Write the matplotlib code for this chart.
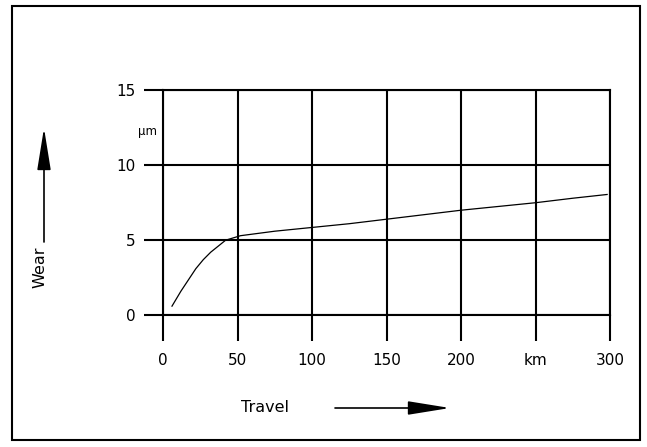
import matplotlib.pyplot as plt
from matplotlib.patches import Rectangle

# wear curve
travel_km = [6, 12, 18, 22, 27, 32, 37, 42, 52, 75, 100, 125, 150, 175, 200, 225, 250, 275, 298]
wear_um = [0.6, 1.6, 2.5, 3.1, 3.7, 4.2, 4.6, 5.0, 5.3, 5.6, 5.85, 6.1, 6.4, 6.7, 7.0, 7.25, 7.5, 7.8, 8.05]

x_ticks = [0, 50, 100, 150, 200, 250, 300]
x_labels = ['0', '50', '100', '150', '200', 'km', '300']
y_ticks = [0, 5, 10, 15]
y_labels = ['0', '5', '10', '15']

plt.rcParams['font.family'] = ['DejaVu Sans']
fig = plt.figure(figsize=(6.47, 4.47), dpi=100)
ax = fig.add_axes([0.252, 0.295, 0.691, 0.503])

ax.plot(travel_km, wear_um, color='black', lw=0.9)

ax.set_xlim(0, 300)
ax.set_ylim(0, 15)
ax.set_xticks(x_ticks)
ax.set_xticklabels(x_labels)
ax.set_yticks(y_ticks)
ax.set_yticklabels(y_labels)
for lab in ax.get_xticklabels():
    if lab.get_text() == 'km':
        lab.set_fontsize(8)
ax.tick_params(axis='x', direction='out', length=19, width=1.5, labelsize=11, pad=8)
ax.tick_params(axis='y', direction='out', length=14, width=1.5, labelsize=11, pad=6)
ax.grid(True, color='black', lw=1.5)
for s in ax.spines.values():
    s.set_linewidth(1.5)

ax.text(-0.034, 0.815, 'µm', transform=ax.transAxes, fontsize=8.5, ha='center', va='center')

# axis captions with arrows
fig.text(40 / 647, 1 - 267 / 447, 'Wear', rotation=90, fontsize=11.5, ha='center', va='center')
fig.text(265 / 647, 1 - 408 / 447, 'Travel', fontsize=11.5, ha='center', va='center')
arr = dict(arrowstyle='-|>,head_length=2.6,head_width=0.42', color='black', lw=1.2,
           mutation_scale=10, shrinkA=0, shrinkB=0)
ax.annotate('', xy=(44, 447 - 128), xytext=(44, 447 - 242), xycoords='figure pixels',
            textcoords='figure pixels', arrowprops=arr, annotation_clip=False)
ax.annotate('', xy=(450, 447 - 408), xytext=(335, 447 - 408), xycoords='figure pixels',
            textcoords='figure pixels', arrowprops=arr, annotation_clip=False)

# frame around the whole figure
fig.patches.append(Rectangle((12 / 647, 7 / 447), 628 / 647, 434 / 447, transform=fig.transFigure,
                             fill=False, edgecolor='black', lw=1.5))

fig.savefig('out.png', dpi=100)
